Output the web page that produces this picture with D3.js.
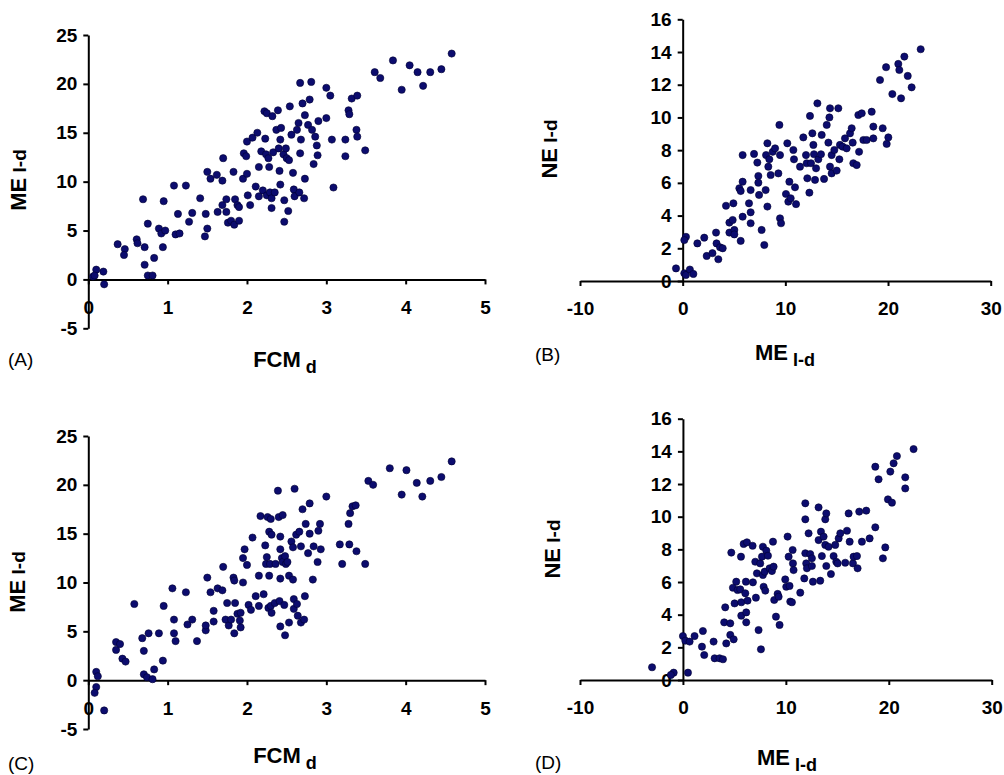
<!DOCTYPE html>
<html><head><meta charset="utf-8">
<script src="https://cdn.jsdelivr.net/npm/d3@7"></script>
<style>
body{margin:0;background:#fff;}
svg{display:block;font-family:"Liberation Sans",Arial,sans-serif;}
.domain,.tick line{stroke:#000;stroke-width:2;}
</style></head><body>
<svg id="c" width="1004" height="775"></svg>
<script>
// Panel A: FCM_d (x) vs ME_I-d (y)
const aX=[0.06,0.1,0.19,0.2,0.08,0.37,0.46,0.45,0.61,0.62,0.69,0.71,0.75,0.71,0.75,0.81,0.83,0.89,0.92,0.94,0.95,0.97,1.08,1.1,1.13,1.15,1.23,1.27,1.31,1.41,1.47,1.48,1.5,1.5,1.54,1.62,1.63,1.69,1.7,1.69,1.74,1.74,1.76,1.8,1.83,1.84,1.85,1.88,1.9,1.9,1.96,1.95,1.99,2.0,2.0,2.01,2.04,2.07,2.11,2.13,2.15,2.15,2.18,2.2,2.22,2.23,2.24,2.25,2.25,2.27,2.28,2.29,2.31,2.31,2.32,2.33,2.35,2.39,2.37,2.4,2.41,2.42,2.43,2.42,2.46,2.47,2.47,2.49,2.5,2.53,2.52,2.54,2.56,2.58,2.59,2.6,2.63,2.65,2.66,2.67,2.67,2.68,2.7,2.72,2.73,2.73,2.77,2.79,2.81,2.82,2.84,2.86,2.88,2.89,2.9,3.0,3.0,3.05,3.07,3.09,3.24,3.24,3.28,3.29,3.32,3.38,3.39,3.39,3.49,3.61,3.68,3.84,3.95,4.05,4.15,4.22,4.31,4.45,4.58];
const aY=[0.3,1.0,0.8,-0.5,0.4,3.6,3.1,2.5,4.1,3.7,8.2,3.3,5.7,1.5,0.4,0.4,2.2,5.2,4.7,3.3,8.0,5.0,9.6,4.6,6.7,4.7,9.6,5.9,6.8,8.3,4.4,6.7,11.0,5.2,10.3,10.7,6.9,10.1,12.4,7.6,6.9,8.2,5.8,6.0,11.0,5.6,8.2,7.6,7.4,6.0,12.9,10.3,12.6,10.8,14.1,8.6,7.6,14.5,9.5,15.0,11.5,8.5,13.1,9.1,17.2,14.4,12.8,17.0,8.6,12.4,11.5,8.9,8.3,7.3,16.7,13.0,8.9,17.3,15.3,13.4,11.1,9.7,15.5,14.3,12.8,8.1,5.9,13.4,12.4,12.2,7.0,17.7,14.8,10.9,9.2,8.5,15.3,16.0,8.9,20.1,12.9,14.3,18.0,8.3,16.8,10.3,15.8,18.4,20.2,15.3,11.8,14.6,13.7,12.7,16.2,19.6,16.5,18.8,14.3,9.4,14.3,12.6,17.3,16.9,18.5,15.3,14.6,18.8,13.2,21.2,20.6,22.4,19.4,21.9,21.2,19.8,21.2,21.5,23.1];

// Panel B: ME_I-d (x) vs NE_I-d (y)
const bX=[-0.65,0.16,0.32,0.16,0.32,0.7,1.04,1.43,2.1,2.34,2.9,3.25,3.3,3.47,3.64,3.9,4.22,4.55,4.55,4.87,4.94,5.03,5.03,5.52,5.65,5.65,5.84,5.84,5.84,6.46,6.62,6.62,6.62,6.95,7.27,7.37,7.44,7.37,7.69,7.95,8.08,8.12,8.25,8.25,8.34,8.44,8.57,8.77,9.0,9.32,9.42,9.48,9.48,9.58,10.06,10.19,10.29,10.39,10.52,10.78,10.84,10.94,11.04,11.43,11.75,12.01,12.08,12.14,12.34,12.4,12.5,12.63,12.73,12.79,12.89,12.99,13.12,13.21,13.47,13.54,13.77,14.03,14.19,14.29,14.35,14.35,14.51,14.51,14.77,15.0,15.16,15.26,15.32,15.58,15.81,15.97,16.3,16.46,16.56,16.62,16.95,17.11,17.18,17.44,17.6,17.92,18.41,18.57,18.57,19.48,19.22,19.81,19.87,20.03,20.42,21.0,21.1,21.27,21.59,21.92,22.3,23.18];
const bY=[0.77,0.47,2.7,2.5,0.37,0.7,0.43,2.3,2.65,1.53,1.7,2.96,2.3,1.33,2.06,2.0,4.6,3.57,2.96,3.73,4.75,3.12,2.85,5.67,5.5,2.45,7.7,6.07,3.93,4.75,5.56,4.2,3.53,7.77,7.24,6.42,5.26,6.01,3.12,2.2,5.56,7.7,8.42,4.55,6.99,7.44,6.48,7.9,8.11,6.58,9.54,7.7,3.83,3.53,5.32,8.42,4.85,6.07,5.06,8.01,7.44,5.73,4.7,6.99,8.78,7.7,7.2,6.28,5.4,10.09,7.2,9.03,8.32,7.75,6.18,6.89,10.86,7.44,7.75,8.93,6.24,9.54,8.46,10.0,10.56,6.99,7.7,6.58,8.01,6.75,10.56,7.44,8.32,8.21,8.72,8.11,9.03,9.34,8.46,7.2,7.09,10.15,7.9,10.25,8.62,8.62,10.35,8.72,9.44,9.34,12.29,13.07,8.38,8.78,11.43,13.27,12.9,11.17,13.72,12.54,11.84,14.17];

// Panel C: FCM_d (x) vs ME_I-d (y)
const cX=[0.1,0.12,0.1,0.08,0.2,0.35,0.35,0.4,0.43,0.47,0.58,0.68,0.7,0.7,0.74,0.76,0.81,0.83,0.89,0.94,0.95,1.06,1.08,1.08,1.1,1.23,1.25,1.31,1.37,1.48,1.48,1.5,1.54,1.58,1.58,1.63,1.69,1.7,1.73,1.75,1.77,1.8,1.83,1.84,1.84,1.85,1.88,1.91,1.92,1.92,1.95,1.95,1.97,2.0,2.02,2.05,2.07,2.11,2.15,2.15,2.17,2.21,2.23,2.24,2.25,2.26,2.27,2.28,2.28,2.29,2.3,2.3,2.31,2.31,2.35,2.36,2.39,2.4,2.42,2.41,2.42,2.42,2.42,2.44,2.45,2.45,2.47,2.48,2.48,2.49,2.51,2.53,2.53,2.56,2.58,2.58,2.59,2.59,2.6,2.62,2.63,2.64,2.66,2.68,2.68,2.7,2.72,2.73,2.74,2.77,2.79,2.79,2.83,2.84,2.89,2.9,2.92,2.93,3.0,3.17,3.2,3.28,3.3,3.29,3.33,3.37,3.38,3.49,3.53,3.59,3.8,3.95,4.01,4.14,4.21,4.31,4.45,4.58];
const cY=[0.85,0.4,-0.7,-1.3,-3.1,3.9,3.1,3.7,2.2,1.9,7.8,4.3,3.0,0.6,0.3,4.8,0.1,1.1,4.8,2.0,7.6,9.4,6.2,4.8,4.0,9.0,5.7,6.2,4.0,5.1,5.6,10.5,9.0,7.1,6.0,9.4,9.2,11.6,6.2,7.9,5.6,6.2,10.5,10.2,4.8,7.9,6.8,6.1,6.9,5.4,10.0,12.5,13.4,11.8,7.7,7.2,14.6,8.6,7.6,10.7,16.8,8.8,13.8,11.9,12.6,16.7,7.4,15.2,10.7,11.9,16.5,7.6,6.9,14.9,7.9,11.9,19.4,16.7,14.7,8.1,10.4,13.4,5.5,12.5,16.9,12.1,7.7,12.7,4.6,11.9,12.1,10.7,5.9,14.2,13.6,10.3,8.3,7.3,19.6,14.9,7.8,6.6,15.2,13.7,5.9,17.5,6.2,8.6,16.0,13.0,15.0,18.1,10.3,13.7,12.1,15.3,16.0,13.4,18.8,13.9,11.9,16.0,17.1,13.9,17.8,17.9,13.2,11.9,20.4,20.0,21.7,19.0,21.5,20.2,18.8,20.4,20.8,22.4];

// Panel D: ME_I-d (x) vs NE_I-d (y)
const dX=[-3.0,-0.9,-1.17,0,0.23,0.49,0.65,1.13,1.85,1.94,2.07,2.98,3.08,3.56,3.89,4.11,4.01,4.21,4.6,4.6,4.7,4.93,5.02,4.86,5.18,5.31,5.57,5.64,5.67,5.67,5.9,6.06,6.12,6.15,6.15,6.22,6.28,6.77,6.8,7.03,7.09,7.19,7.35,7.51,7.58,7.68,7.77,7.77,7.84,7.94,8.0,8.1,8.26,8.42,8.65,8.75,8.81,8.87,9.04,9.2,9.3,9.39,9.94,10.04,10.17,10.27,10.36,10.43,10.59,10.66,10.69,10.75,11.4,11.79,11.89,11.89,11.89,11.98,12.05,12.21,12.37,12.53,12.53,12.63,13.18,13.18,13.34,13.41,13.5,13.67,13.83,13.93,13.83,13.93,14.15,14.38,14.64,14.8,14.9,15.03,15.13,15.29,15.77,15.94,16.1,16.2,16.52,16.58,16.91,16.97,17.13,17.39,17.81,18.14,18.69,18.69,19.01,19.43,19.66,19.92,20.15,20.31,20.47,20.79,21.6,21.6,22.41];
const dY=[0.78,0.45,0.31,2.69,2.41,0.45,2.35,2.69,2.04,3.0,1.53,2.35,1.33,1.33,1.27,4.45,3.53,2.24,3.47,2.76,7.8,2.49,4.69,5.65,6.02,5.51,5.55,7.55,4.76,3.94,8.33,5.31,6.02,4.14,3.53,8.43,4.86,8.22,5.98,7.24,5.04,6.53,3.06,7.14,1.88,7.55,8.16,6.43,5.71,6.63,5.47,7.92,7.61,6.84,6.67,8.47,6.94,4.9,3.88,5.27,5.1,3.37,6.16,5.71,8.78,7.55,5.76,4.8,4.76,7.96,7.14,6.73,5.35,6.22,10.82,9.84,7.76,7.14,6.84,8.98,7.71,7.45,6.98,6.02,10.57,8.57,6.08,9.08,7.59,8.78,9.84,10.2,8.27,6.98,8.16,6.49,7.59,8.27,7.24,7.14,8.67,8.98,7.18,9.14,10.2,8.47,7.14,7.55,7.59,6.84,10.31,8.47,10.37,8.67,13.06,9.35,12.29,7.45,8.12,11.06,12.76,10.86,13.27,13.71,12.41,11.73,14.14];

const ticksFCM=[0,1,2,3,4,5];
const ticksME=[-5,0,5,10,15,20,25];
const ticksMEx=[-10,0,10,20,30];
const ticksNE=[0,2,4,6,8,10,12,14,16];

const svg=d3.select("#c");
const dotFill="#0c0c6e", dotStroke="#000030";
const fmt=d=>String(d);

function styleAxis(sel){
  sel.attr("font-size",19).attr("font-family","Liberation Sans, Arial, sans-serif");
  sel.selectAll(".tick text").attr("font-size",19).attr("font-weight","bold").attr("fill","#000");
}

function panel(o){
  const g=svg.append("g");
  const x=d3.scaleLinear().domain(o.xd).range(o.xr);
  const y=d3.scaleLinear().domain(o.yd).range(o.yr);
  g.append("g").attr("transform",`translate(${x(0)},0)`)
    .call(d3.axisLeft(y).tickValues(o.yt).tickFormat(fmt).tickSize(5).tickPadding(6).tickSizeOuter(0))
    .call(styleAxis);
  g.append("g").attr("transform",`translate(0,${y(0)})`)
    .call(d3.axisBottom(x).tickValues(o.xt).tickFormat(fmt).tickSize(5).tickPadding(16).tickSizeOuter(0))
    .call(styleAxis);
  g.selectAll("circle").data(o.xs.map((v,i)=>[v,o.ys[i]])).join("circle")
    .attr("cx",d=>x(d[0])).attr("cy",d=>y(d[1])).attr("r",3.6)
    .attr("fill",dotFill).attr("stroke",dotStroke).attr("stroke-width",0.6);
  const yt=g.append("text").attr("transform",`translate(${o.ytx},${o.yty}) rotate(-90)`)
    .attr("text-anchor","middle").attr("font-weight","bold").attr("font-size",22);
  yt.append("tspan").text(o.ytitle[0]);
  yt.append("tspan").attr("font-size",19).text(" "+o.ytitle[1]);
  const xt=g.append("text").attr("x",o.xtx).attr("y",o.xty)
    .attr("text-anchor","middle").attr("font-weight","bold").attr("font-size",22);
  xt.append("tspan").text(o.xtitle[0]);
  xt.append("tspan").attr("font-size",18).attr("dy",6).text(" "+o.xtitle[1]);
  g.append("text").attr("x",o.lx).attr("y",o.ly).attr("font-size",19).text(o.label);
}

panel({xs:aX,ys:aY,xd:[0,5],xr:[88.3,485],yd:[-5,25],yr:[328.3,35],xt:ticksFCM,yt:ticksME,
  ytitle:["ME","I-d"],ytx:26,yty:180,xtitle:["FCM","d"],xtx:285,xty:367,label:"(A)",lx:8,ly:366});
panel({xs:bX,ys:bY,xd:[-10,30],xr:[580,990.7],yd:[0,16],yr:[281,19.3],xt:ticksMEx,yt:ticksNE,
  ytitle:["NE","I-d"],ytx:557,yty:149,xtitle:["ME","I-d"],xtx:785,xty:360,label:"(B)",lx:535,ly:361});
panel({xs:cX,ys:cY,xd:[0,5],xr:[88.3,485],yd:[-5,25],yr:[729,436],xt:ticksFCM,yt:ticksME,
  ytitle:["ME","I-d"],ytx:25,yty:582,xtitle:["FCM","d"],xtx:285,xty:763,label:"(C)",lx:8,ly:770});
panel({xs:dX,ys:dY,xd:[-10,30],xr:[580,991.7],yd:[0,16],yr:[680,418.7],xt:ticksMEx,yt:ticksNE,
  ytitle:["NE","I-d"],ytx:560,yty:549,xtitle:["ME","I-d"],xtx:787,xty:765,label:"(D)",lx:535,ly:769});
</script></body></html>
